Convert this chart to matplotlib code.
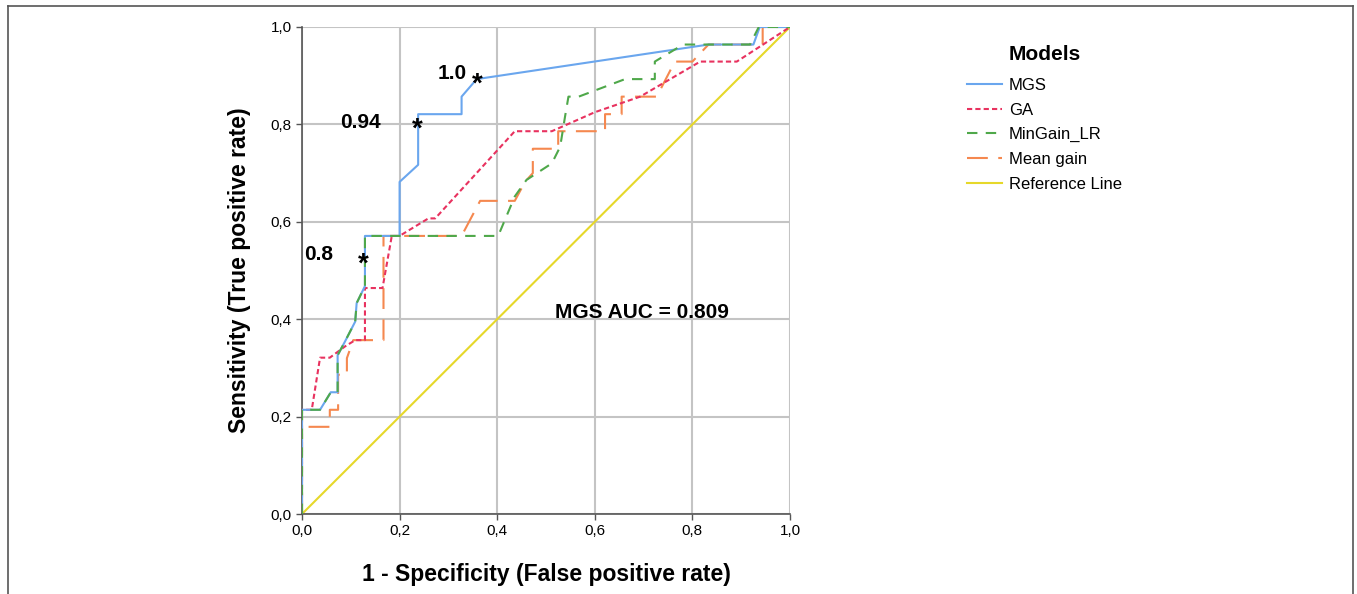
import matplotlib
matplotlib.use("Agg")
import matplotlib.pyplot as plt
from matplotlib.lines import Line2D

plt.rcParams['font.family'] = ['Liberation Sans', 'DejaVu Sans']

# ROC data (1 - specificity, sensitivity)
mgs_x = [0, 0, 0.037, 0.059, 0.073, 0.073, 0.088, 0.109, 0.112, 0.129, 0.129, 0.2, 0.2, 0.238, 0.238, 0.327, 0.327, 0.358, 0.833, 0.925, 0.938, 1.0]
mgs_y = [0, 0.214, 0.214, 0.25, 0.25, 0.326, 0.354, 0.395, 0.433, 0.468, 0.571, 0.571, 0.682, 0.717, 0.821, 0.821, 0.857, 0.893, 0.964, 0.964, 1.0, 1.0]

ga_x = [0, 0, 0.02, 0.037, 0.057, 0.088, 0.109, 0.129, 0.129, 0.165, 0.184, 0.2, 0.259, 0.273, 0.436, 0.512, 0.6, 0.693, 0.816, 0.891, 1.0]
ga_y = [0, 0.214, 0.214, 0.321, 0.321, 0.344, 0.357, 0.357, 0.464, 0.464, 0.571, 0.571, 0.607, 0.607, 0.786, 0.786, 0.825, 0.857, 0.929, 0.929, 1.0]

mingain_x = [0, 0, 0.037, 0.059, 0.073, 0.073, 0.088, 0.109, 0.112, 0.129, 0.129, 0.402, 0.436, 0.46, 0.512, 0.529, 0.539, 0.546, 0.567, 0.662, 0.723, 0.723, 0.781, 0.918, 0.936, 1.0]
mingain_y = [0, 0.214, 0.214, 0.25, 0.25, 0.326, 0.354, 0.395, 0.433, 0.468, 0.571, 0.571, 0.652, 0.686, 0.72, 0.754, 0.816, 0.857, 0.857, 0.893, 0.893, 0.929, 0.964, 0.964, 1.0, 1.0]

meangain_x = [0, 0, 0.057, 0.057, 0.074, 0.074, 0.092, 0.092, 0.105, 0.167, 0.167, 0.327, 0.365, 0.436, 0.457, 0.473, 0.473, 0.525, 0.525, 0.621, 0.621, 0.655, 0.655, 0.727, 0.764, 0.80, 0.833, 0.944, 0.944, 1.0]
meangain_y = [0, 0.179, 0.179, 0.214, 0.214, 0.286, 0.286, 0.32, 0.357, 0.357, 0.571, 0.571, 0.643, 0.643, 0.682, 0.70, 0.75, 0.75, 0.786, 0.786, 0.821, 0.821, 0.857, 0.857, 0.929, 0.929, 0.964, 0.964, 1.0, 1.0]

ref_x = [0, 1]
ref_y = [0, 1]

cut_labels = ["0.8", "0.94", "1.0"]
cut_x = [0.125, 0.236, 0.359]
cut_y = [0.526, 0.803, 0.895]

ticks = [0.0, 0.2, 0.4, 0.6, 0.8, 1.0]
tick_labels = ["0,0", "0,2", "0,4", "0,6", "0,8", "1,0"]

fig = plt.figure(figsize=(13.57, 5.94), dpi=100)
ax = fig.add_axes([302/1357, 80/594, 488/1357, 487/594])

ax.plot(mgs_x, mgs_y, color='#6aa6ee', lw=1.5, label='MGS', zorder=5)
ax.plot(ga_x, ga_y, color='#e8325f', lw=1.5, ls=(0, (2.5, 1.5)), label='GA', zorder=4)
ax.plot(mingain_x, mingain_y, color='#4fa84a', lw=1.5, ls=(0, (5, 4)), label='MinGain_LR', zorder=6)
ax.plot(meangain_x, meangain_y, color='#f5884f', lw=1.5, ls=(0, (10, 5)), label='Mean gain', zorder=3)
ax.plot(ref_x, ref_y, color='#e6d82a', lw=1.5, label='Reference Line', zorder=2)

for x, y in zip(cut_x, cut_y):
    ax.text(x, y - 0.014, '*', fontsize=20, fontweight='bold', ha='center', va='center', zorder=10)

label_dx = [-0.062, -0.074, -0.022]
label_dy = [0.006, 0.0, 0.01]
for lab, x, y, dx, dy in zip(cut_labels, cut_x, cut_y, label_dx, label_dy):
    ax.text(x + dx, y + dy, lab, fontsize=15, fontweight='bold', ha='right', va='center')

ax.text(0.697, 0.413, 'MGS AUC = 0.809', fontsize=15, fontweight='bold', ha='center', va='center')

ax.set_xlim(0, 1)
ax.set_ylim(0, 1)
ax.set_xticks(ticks)
ax.set_xticklabels(tick_labels, fontsize=11)
ax.set_yticks(ticks)
ax.set_yticklabels(tick_labels, fontsize=11)
ax.grid(True, color='#c4c4c4', lw=1.5)
ax.set_axisbelow(True)
ax.tick_params(length=4, color='#555555', width=1)
for s in ['top', 'right']:
    ax.spines[s].set_visible(False)
for s in ['left', 'bottom']:
    ax.spines[s].set_color('#555555')
    ax.spines[s].set_linewidth(1.2)

ax.set_xlabel('1 - Specificity (False positive rate)', fontsize=16.5, fontweight='bold', labelpad=18)
ax.set_ylabel('Sensitivity (True positive rate)', fontsize=16.5, fontweight='bold', labelpad=14)

handles, labels = ax.get_legend_handles_labels()
leg = fig.legend(handles, labels, title='Models', loc='upper left',
                 bbox_to_anchor=(952/1357, 1 - 30/594), frameon=False,
                 fontsize=12, title_fontproperties={'weight': 'bold', 'size': 15},
                 handlelength=2.1, labelspacing=0.58, handletextpad=0.4)
leg._legend_box.sep = 10

# outer frame
fig.add_artist(Line2D([8/1357, 8/1357], [0, 1 - 6/594], color='#555555', lw=1.2, transform=fig.transFigure))
fig.add_artist(Line2D([8/1357, 1353/1357], [1 - 6/594, 1 - 6/594], color='#555555', lw=1.2, transform=fig.transFigure))
fig.add_artist(Line2D([1353/1357, 1353/1357], [0, 1 - 6/594], color='#555555', lw=1.2, transform=fig.transFigure))

fig.savefig('out.png', dpi=100)
